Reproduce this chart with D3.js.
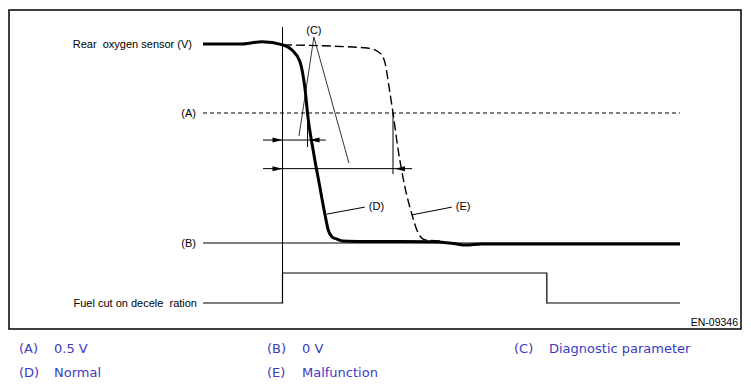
<!DOCTYPE html>
<html>
<head>
<meta charset="utf-8">
<script src="https://cdn.jsdelivr.net/npm/d3@7"></script>
<style>
  body { margin: 0; background: #fff; }
  svg { display: block; }
  .lbl { font-family: "Liberation Sans", Arial, sans-serif; font-size: 11px; fill: #000; white-space: pre; }
  .leg { font-family: "DejaVu Sans", Verdana, sans-serif; font-size: 13px; fill: #3a3ac4; }
</style>
</head>
<body>
<div id="chart"></div>
<script>
// time in s (0 = start of fuel cut), sensor voltage in V
const normal = [
  [-2, 0.765], [-1.07, 0.765], [-0.52, 0.774], [0.01, 0.762], [0.24, 0.742],
  [0.44, 0.697], [0.57, 0.588], [0.64, 0.485], [0.77, 0.358], [0.94, 0.215],
  [1.07, 0.108], [1.15, 0.05], [1.25, 0.023], [1.37, 0.015], [1.52, 0.008],
  [2.08, 0.006], [3.79, 0.005], [4.3, -0.002], [4.62, -0.008], [5.0, -0.004], [10, -0.004]
];
const malfunction = [
  [0.01, 0.762], [2.13, 0.75], [2.45, 0.731], [2.58, 0.692], [2.68, 0.6],
  [2.78, 0.5], [2.91, 0.358], [3.08, 0.215], [3.26, 0.108], [3.38, 0.05],
  [3.59, 0.012], [3.96, 0.008]
];
// fuel cut signal: 0 = off, 1 = on
const fuelCut = [[-2, 0], [0, 0], [0, 1], [6.65, 1], [6.65, 0], [10, 0]];

const refLevels = [
  { key: "(A)", volt: 0.5, dashed: true },
  { key: "(B)", volt: 0, dashed: false }
];

// diagnostic parameter arrows: [from t, to t, at volt, tick t, tick bottom volt]
const diagArrows = [
  { t0: -0.49, t1: 1.09, v: 0.396, tick: 0.63, tickEnd: 0.369 },
  { t0: -0.49, t1: 3.26, v: 0.286, tick: 2.78, tickEnd: 0.265 }
];

const legendItems = [
  { key: "(A)", text: "0.5 V" }, { key: "(B)", text: "0 V" }, { key: "(C)", text: "Diagnostic parameter" },
  { key: "(D)", text: "Normal" }, { key: "(E)", text: "Malfunction" }
];

const W = 751, H = 388;
const svg = d3.select("#chart").append("svg").attr("width", W).attr("height", H);

const x = d3.scaleLinear().domain([-2, 10]).range([203, 680]);
const y = d3.scaleLinear().domain([0, 1]).range([243, -17]);
const yFuel = d3.scaleLinear().domain([0, 1]).range([303, 273]);

// frame
svg.append("rect").attr("x", 9).attr("y", 10).attr("width", 732).attr("height", 319)
  .attr("fill", "none").attr("stroke", "#000").attr("stroke-width", 1.5);

// time zero line
svg.append("line").attr("x1", x(0)).attr("x2", x(0)).attr("y1", 27).attr("y2", yFuel(0))
  .attr("stroke", "#000").attr("stroke-width", 1);

// reference levels
refLevels.forEach(r => {
  svg.append("line").attr("x1", x(-2)).attr("x2", x(10)).attr("y1", y(r.volt)).attr("y2", y(r.volt))
    .attr("stroke", "#000").attr("stroke-width", 1)
    .attr("stroke-dasharray", r.dashed ? "4,3" : null);
  svg.append("text").attr("class", "lbl").attr("x", 196).attr("y", y(r.volt)).attr("dy", "0.35em")
    .attr("text-anchor", "end").text(r.key);
});

svg.append("text").attr("class", "lbl").attr("x", 192).attr("y", y(0.765)).attr("dy", "0.35em")
  .attr("text-anchor", "end").text("Rear  oxygen sensor (V)");
svg.append("text").attr("class", "lbl").attr("x", 197).attr("y", yFuel(0)).attr("dy", "0.35em")
  .attr("text-anchor", "end").text("Fuel cut on decele  ration");

const line = d3.line().x(d => x(d[0])).y(d => y(d[1])).curve(d3.curveMonotoneX);

// malfunction (dashed)
svg.append("path").attr("d", line(malfunction)).attr("fill", "none")
  .attr("stroke", "#000").attr("stroke-width", 1.4).attr("stroke-dasharray", "9,4");

// normal (thick)
svg.append("path").attr("d", line(normal)).attr("fill", "none")
  .attr("stroke", "#000").attr("stroke-width", 3).attr("stroke-linejoin", "round");

// fuel cut step
svg.append("path")
  .attr("d", d3.line().x(d => x(d[0])).y(d => yFuel(d[1]))(fuelCut))
  .attr("fill", "none").attr("stroke", "#000").attr("stroke-width", 1.2);

// diagnostic parameter arrows
function arrowHead(tipX, yy, dir) {
  const len = 10, half = 2.5;
  svg.append("path")
    .attr("d", `M${tipX},${yy} L${tipX - dir * len},${yy - half} L${tipX - dir * len},${yy + half} Z`)
    .attr("fill", "#000");
}
diagArrows.forEach(a => {
  const yy = y(a.v);
  svg.append("line").attr("x1", x(a.t0)).attr("x2", x(a.t1)).attr("y1", yy).attr("y2", yy)
    .attr("stroke", "#000").attr("stroke-width", 1);
  svg.append("line").attr("x1", x(a.tick)).attr("x2", x(a.tick)).attr("y1", y(0.5)).attr("y2", y(a.tickEnd))
    .attr("stroke", "#000").attr("stroke-width", 1);
  arrowHead(x(0), yy, 1);
  arrowHead(x(a.tick) + 2, yy, -1);
});

// (C) leaders
const cApex = [0.79, 0.792];
[[0.415, 0.411], [1.67, 0.308]].forEach(e => {
  svg.append("line").attr("x1", x(cApex[0])).attr("y1", y(cApex[1]))
    .attr("x2", x(e[0])).attr("y2", y(e[1])).attr("stroke", "#000").attr("stroke-width", 0.8);
});
svg.append("text").attr("class", "lbl").attr("x", x(cApex[0])).attr("y", y(cApex[1]) - 7)
  .attr("dy", "0.35em").attr("text-anchor", "middle").text("(C)");

// (D), (E) leaders
[
  { from: [1.11, 0.111], to: [2.07, 0.138], key: "(D)" },
  { from: [3.25, 0.108], to: [4.26, 0.138], key: "(E)" }
].forEach(l => {
  svg.append("line").attr("x1", x(l.from[0])).attr("y1", y(l.from[1]))
    .attr("x2", x(l.to[0])).attr("y2", y(l.to[1])).attr("stroke", "#000").attr("stroke-width", 1);
  svg.append("text").attr("class", "lbl").attr("x", x(l.to[0]) + 4).attr("y", y(l.to[1]) - 1)
    .attr("dy", "0.35em").text(l.key);
});

svg.append("text").attr("class", "lbl").attr("x", 738).attr("y", 322).attr("dy", "0.35em")
  .attr("text-anchor", "end").style("font-size", "10.5px").text("EN-09346");

// legend
const colX = [19, 267, 514];
legendItems.forEach((it, i) => {
  const cx = colX[i % 3], cy = i < 3 ? 348 : 372;
  svg.append("text").attr("class", "leg").attr("x", cx).attr("y", cy).attr("dy", "0.35em").text(it.key);
  svg.append("text").attr("class", "leg").attr("x", cx + 35).attr("y", cy).attr("dy", "0.35em").text(it.text);
});
</script>
</body>
</html>
